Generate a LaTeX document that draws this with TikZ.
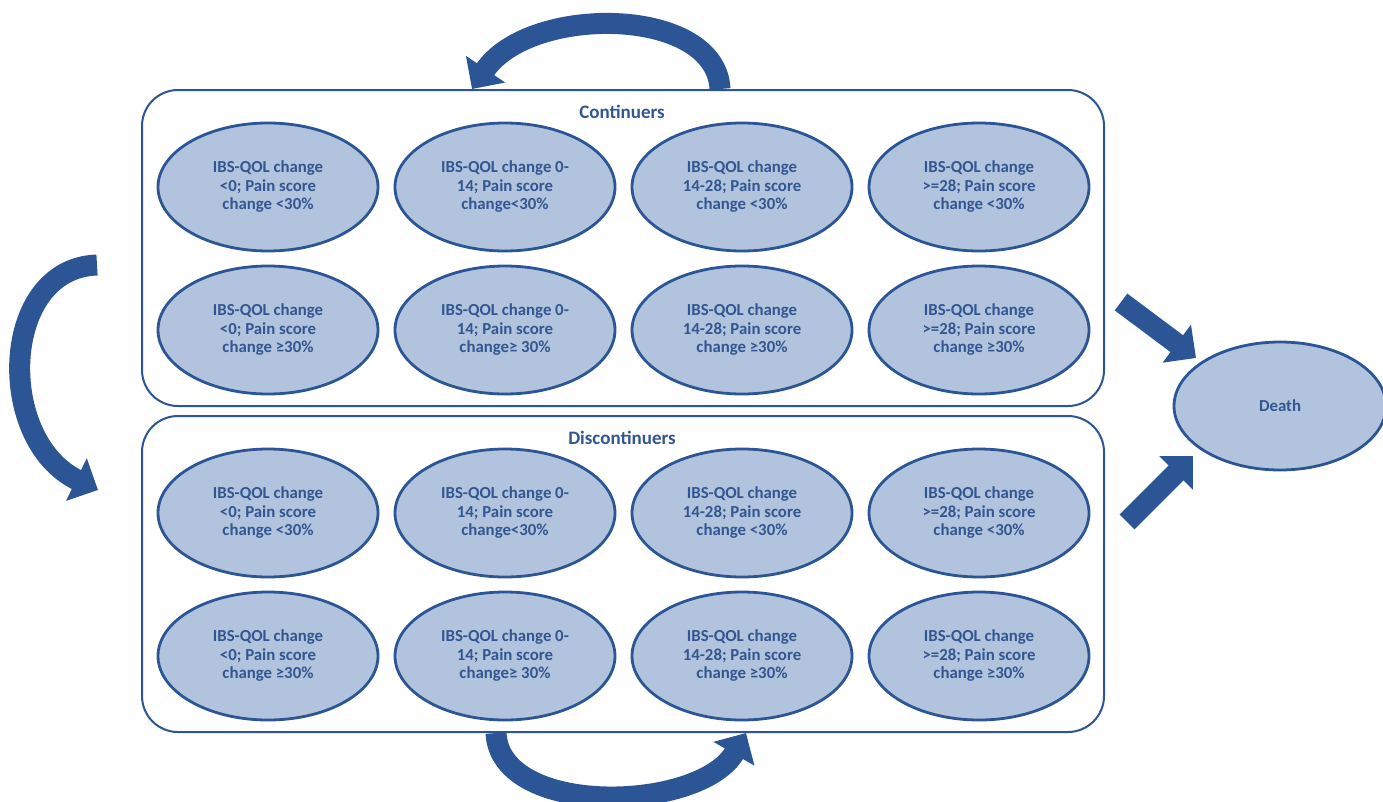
\documentclass[tikz,border=0pt]{standalone}
\usepackage{fontspec}
\setmainfont{Carlito}
\usetikzlibrary{shapes.geometric, positioning, arrows.meta}

\definecolor{edgeblue}{RGB}{44,85,150}
\definecolor{stateblue}{RGB}{178,196,221}
\definecolor{textblue}{RGB}{50,86,145}

\tikzset{
  state/.style={ellipse, draw=edgeblue, line width=2.8pt, fill=stateblue,
    minimum width=220pt, minimum height=128pt, inner sep=0pt, align=center,
    text=textblue, font=\bfseries\fontsize{16.8}{18.5}\selectfont},
  group/.style={draw=edgeblue, line width=2pt, rounded corners=36pt,
    minimum width=962pt, minimum height=316pt},
  grouplabel/.style={text=textblue, font=\bfseries\fontsize{19}{22}\selectfont},
  bigarrow/.style={draw=edgeblue, line width=21pt,
    -{Triangle[width=46pt,length=24pt]}},
}

\begin{document}
\begin{tikzpicture}[x=1pt,y=-1pt,node distance=237pt,on grid]
			\useasboundingbox (0,0) rectangle (1383,801);
			% groups
			\node[group] (cont) at (623,248) {};
			\node[group] (disc) at (623,574) {};
			\node[grouplabel] (contlabel) at (622,112) {Continuers};
			\node[grouplabel] (disclabel) at (622,438) {Discontinuers};
			% continuers
			\node[state] (c1) at (268,187)         {IBS-QOL change\\<0; Pain score\\change <30\%};
			\node[state] (c2) [right=of c1]        {IBS-QOL change 0-\\14; Pain score\\change<30\%};
			\node[state] (c3) [right=of c2]        {IBS-QOL change\\14-28; Pain score\\change <30\%};
			\node[state] (c4) [right=of c3]        {IBS-QOL change\\>=28; Pain score\\change <30\%};
			\node[state] (c5) [below=143pt of c1]  {IBS-QOL change\\<0; Pain score\\change ≥30\%};
			\node[state] (c6) [right=of c5]        {IBS-QOL change 0-\\14; Pain score\\change≥ 30\%};
			\node[state] (c7) [right=of c6]        {IBS-QOL change\\14-28; Pain score\\change ≥30\%};
			\node[state] (c8) [right=of c7]        {IBS-QOL change\\>=28; Pain score\\change ≥30\%};
			% discontinuers
			\node[state] (d1) at (268,513)         {IBS-QOL change\\<0; Pain score\\change <30\%};
			\node[state] (d2) [right=of d1]        {IBS-QOL change 0-\\14; Pain score\\change<30\%};
			\node[state] (d3) [right=of d2]        {IBS-QOL change\\14-28; Pain score\\change <30\%};
			\node[state] (d4) [right=of d3]        {IBS-QOL change\\>=28; Pain score\\change <30\%};
			\node[state] (d5) [below=143pt of d1]  {IBS-QOL change\\<0; Pain score\\change ≥30\%};
			\node[state] (d6) [right=of d5]        {IBS-QOL change 0-\\14; Pain score\\change≥ 30\%};
			\node[state] (d7) [right=of d6]        {IBS-QOL change\\14-28; Pain score\\change ≥30\%};
			\node[state] (d8) [right=of d7]        {IBS-QOL change\\>=28; Pain score\\change ≥30\%};
			% death
			\node[state, minimum width=212pt] (death) at (1280,406) {Death};
			% arrow ends
			\coordinate (contloopout) at (720,89);
			\coordinate (contloopin)  at (472,89);
			\coordinate (switchout)   at (97,265);
			\coordinate (switchin)    at (98,490);
			\coordinate (discloopout) at (496,733);
			\coordinate (discloopin)  at (746,733);
			\coordinate (contdie)     at (1121,302);
			\coordinate (contdeath)   at (1196,358);
			\coordinate (discdie)     at (1127,522);
			\coordinate (discdeath)   at (1193,456);
			% transitions
			\draw[bigarrow] (contloopout) .. controls (716,6) and (530,4) .. (contloopin);
			\draw[bigarrow] (switchout) .. controls (0,268) and (-5,440) .. (switchin);
			\draw[bigarrow] (discloopout) .. controls (500,818) and (700,812) .. (discloopin);
			\draw[bigarrow] (contdie) -- (contdeath);
			\draw[bigarrow] (discdie) -- (discdeath);
\end{tikzpicture}
\end{document}
